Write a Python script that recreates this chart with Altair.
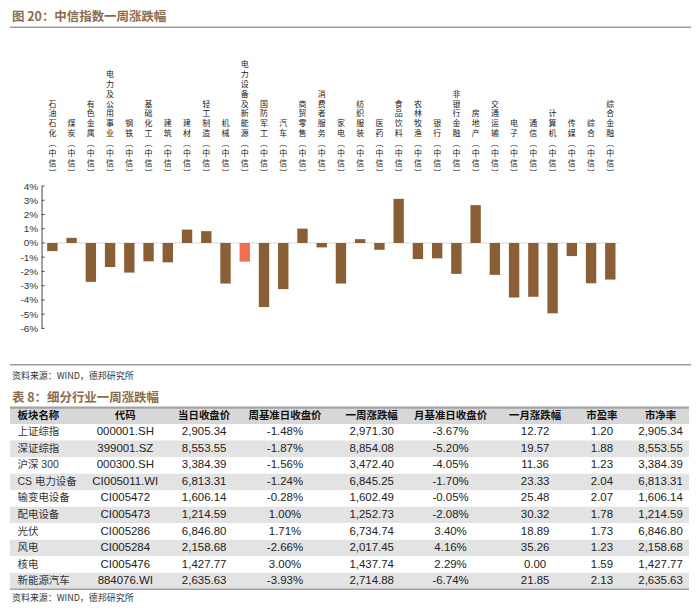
import altair as alt
import pandas as pd

# ---------------- data ----------------
industries = ["石油石化", "煤炭", "有色金属", "电力及公用事业", "钢铁", "基础化工", "建筑", "建材",
              "轻工制造", "机械", "电力设备及新能源", "国防军工", "汽车", "商贸零售", "消费者服务", "家电",
              "纺织服装", "医药", "食品饮料", "农林牧渔", "银行", "非银行金融", "房地产", "交通运输",
              "电子", "通信", "计算机", "传媒", "综合", "综合金融"]
weekly_change = [-0.57, 0.36, -2.73, -1.69, -2.08, -1.29, -1.36, 0.94, 0.83, -2.85,
                 -1.31, -4.50, -3.24, 1.01, -0.31, -2.85, 0.27, -0.48, 3.10, -1.13,
                 -1.08, -2.17, 2.66, -2.24, -3.83, -3.78, -4.94, -0.92, -2.83, -2.57]
highlight = "电力设备及新能源"
label_suffix = ["︵", "中", "信", "︶"]   # "（中信）" in vertical presentation forms
y_ticks = [4, 3, 2, 1, 0, -1, -2, -3, -4, -5, -6]

chart_title = "图 20：中信指数一周涨跌幅"
table_title = "表 8：细分行业一周涨跌幅"
source_text = "资料来源：WIND，德邦研究所"

headers = ["板块名称", "代码", "当日收盘价", "周基准日收盘价", "一周涨跌幅", "月基准日收盘价", "一月涨跌幅", "市盈率", "市净率"]
names = ["上证综指", "深证综指", "沪深 300", "CS 电力设备", "输变电设备", "配电设备", "光伏", "风电", "核电", "新能源汽车"]
codes = ["000001.SH", "399001.SZ", "000300.SH", "CI005011.WI", "CI005472", "CI005473", "CI005286", "CI005284", "CI005476", "884076.WI"]
close_today = ["2,905.34", "8,553.55", "3,384.39", "6,813.31", "1,606.14", "1,214.59", "6,846.80", "2,158.68", "1,427.77", "2,635.63"]
week_base = ["-1.48%", "-1.87%", "-1.56%", "-1.24%", "-0.28%", "1.00%", "1.71%", "-2.66%", "3.00%", "-3.93%"]
week_chg = ["2,971.30", "8,854.08", "3,472.40", "6,845.25", "1,602.49", "1,252.73", "6,734.74", "2,017.45", "1,437.74", "2,714.88"]
month_base = ["-3.67%", "-5.20%", "-4.05%", "-1.70%", "-0.05%", "-2.08%", "3.40%", "4.16%", "2.29%", "-6.74%"]
month_chg = ["12.72", "19.57", "11.36", "23.33", "25.48", "30.32", "18.89", "35.26", "0.00", "21.85"]
pe = ["1.20", "1.88", "1.23", "2.04", "2.07", "1.78", "1.73", "1.23", "1.59", "2.13"]
pb = ["2,905.34", "8,553.55", "3,384.39", "6,813.31", "1,606.14", "1,214.59", "6,846.80", "2,158.68", "1,427.77", "2,635.63"]

# ---------------- layout / style ----------------
W, H = 684, 598
CJK = "Noto Sans CJK SC"
LAT = "Liberation Sans, Noto Sans CJK SC"
BROWN = "#8b6b4e"
BAR = "#8b5f35"
HIGHLIGHT = "#f07050"
LINE = "#9d9d9d"

TITLE_Y, TOP_LINE_Y = 8, 18
LABEL_BOTTOM = 170
LABEL_LH = 9.9
AXIS_X = 31.7
BAND_RANGE = [32.9, 612.6]
Y_RANGE = [320.5, 177.5]
MID_LINE_Y, SRC1_Y, TBL_TITLE_Y = 357, 368, 390.5
TBL_TOP, ROW_H = 400, 16.6
TBL_BOTTOM = TBL_TOP + ROW_H * 11
SRC2_Y = TBL_BOTTOM + 9
COL_X = [7.6, 115.8, 195, 276.2, 363.3, 442.5, 527.4, 594.5, 653.4]


def one(t=""):
    return pd.DataFrame({"t": [t]})


def text_item(t, y, size=9, bold=False, color="#333"):
    return alt.Chart(one(t)).mark_text(
        align="left", baseline="middle", font=CJK, fontSize=size,
        fontWeight="bold" if bold else "normal", color=color
    ).encode(text="t:N", x=alt.value(2), y=alt.value(y))


def hline(y, width=1.5, color=LINE, x0=0, x1=W):
    return alt.Chart(one()).mark_rule(color=color, strokeWidth=width).encode(
        x=alt.value(x0), x2=alt.value(x1), y=alt.value(y))


deco = [
    text_item(chart_title, TITLE_Y, 12.5, True, BROWN),
    hline(TOP_LINE_Y),
    hline(MID_LINE_Y),
    text_item(source_text, SRC1_Y, 9),
    text_item(table_title, TBL_TITLE_Y, 12.5, True, BROWN),
    text_item(source_text, SRC2_Y, 9),
]

# ---------------- bar chart ----------------
bar_df = pd.DataFrame({"name": industries, "value": weekly_change})
tick_df = pd.DataFrame({"t": y_ticks})

# vertical category labels: one text per character, position counted from the bottom
chars = []
for n in industries:
    seq = list(n) + label_suffix
    for i, ch in enumerate(seq):
        chars.append({"name": n, "ch": ch, "pos": len(seq) - 1 - i})
char_df = pd.DataFrame(chars)
n_lines = int(char_df["pos"].max()) + 1

xscale = alt.Scale(domain=industries, range=BAND_RANGE, paddingInner=0.46, paddingOuter=0.23)
yscale = alt.Scale(domain=[-6, 4], range=Y_RANGE, nice=False, zero=False)
yaxis = alt.Axis(values=y_ticks, labelExpr="datum.value + '%'", ticks=False, grid=False,
                 domain=True, domainColor="#444", domainWidth=1, labelFont="Liberation Sans",
                 labelFontSize=10, labelColor="#333", labelPadding=4, labelFlush=False,
                 labelOverlap=False, offset=-AXIS_X, title=None, orient="left")

zero_rule = alt.Chart(tick_df).transform_filter("datum.t == 0").mark_rule(
    color="#d9d9d9", strokeWidth=1).encode(
    y=alt.Y("t:Q", scale=yscale, axis=yaxis),
    x=alt.value(AXIS_X), x2=alt.value(BAND_RANGE[1]))

tick_marks = alt.Chart(tick_df).mark_rule(color="#444", strokeWidth=1).encode(
    y=alt.Y("t:Q", scale=yscale, axis=yaxis),
    x=alt.value(AXIS_X), x2=alt.value(AXIS_X + 3))

bars = alt.Chart(bar_df).mark_bar().encode(
    x=alt.X("name:N", scale=xscale, sort=None, axis=None),
    y=alt.Y("value:Q", scale=yscale, axis=yaxis),
    y2=alt.datum(0),
    color=alt.condition(alt.datum.name == highlight, alt.value(HIGHLIGHT), alt.value(BAR)),
)

bar_layer = alt.layer(zero_rule, tick_marks, bars)

char_scale = alt.Scale(domain=[0, n_lines],
                       range=[LABEL_BOTTOM - LABEL_LH / 2, LABEL_BOTTOM - LABEL_LH / 2 - n_lines * LABEL_LH],
                       nice=False, zero=False)
label_layer = alt.Chart(char_df).mark_text(
    baseline="middle", align="center", font=CJK, fontSize=8, color="#222"
).encode(
    x=alt.X("name:N", scale=xscale, sort=None, axis=None),
    y=alt.Y("pos:Q", scale=char_scale, axis=None),
    text="ch:N",
)

# ---------------- table ----------------
row_keys = [headers[0]] + names
columns = [names, codes, close_today, week_base, week_chg, month_base, month_chg, pe, pb]
cells = []
for c, h in enumerate(headers):
    cells.append({"row": headers[0], "col": c, "txt": h, "kind": "header"})
    for r, n in enumerate(names):
        cells.append({"row": n, "col": c, "txt": columns[c][r],
                      "kind": "name" if c == 0 else "value"})
cell_df = pd.DataFrame(cells)
rows_df = pd.DataFrame({"row": row_keys,
                        "shade": ["header"] + ["white" if i % 2 == 0 else "gray" for i in range(len(names))]})

row_scale = alt.Scale(domain=row_keys, range=[TBL_TOP, TBL_BOTTOM], paddingInner=0, paddingOuter=0)
col_scale = alt.Scale(domain=list(range(len(headers))), range=COL_X, nice=False, zero=False)

shade = alt.Chart(rows_df).mark_rect().encode(
    y=alt.Y("row:N", scale=row_scale, axis=None, sort=None),
    x=alt.value(0), x2=alt.value(682),
    color=alt.Color("shade:N", scale=alt.Scale(domain=["header", "gray", "white"],
                                               range=["#d7d7d7", "#e3e3e3", "#ffffff"]), legend=None),
)


def table_text(cond, align, font, size, weight, color):
    return alt.Chart(cell_df).transform_filter(cond).mark_text(
        align=align, baseline="middle", font=font, fontSize=size, fontWeight=weight, color=color
    ).encode(
        x=alt.X("col:Q", scale=col_scale, axis=None),
        y=alt.Y("row:N", scale=row_scale, axis=None, sort=None),
        text="txt:N",
    )


hdr_first = table_text((alt.datum.kind == "header") & (alt.datum.col == 0), "left", CJK, 10.5, "bold", "#111")
hdr_rest = table_text((alt.datum.kind == "header") & (alt.datum.col > 0), "center", CJK, 10.5, "bold", "#111")
name_txt = table_text(alt.datum.kind == "name", "left", LAT, 10.5, "normal", "#333")
value_txt = table_text(alt.datum.kind == "value", "center", "Liberation Sans", 11.5, "normal", "#222")

table_layer = alt.layer(shade, hdr_first, hdr_rest, name_txt, value_txt)

borders = [hline(TBL_TOP, 2.2, "#a3a3a3", 0, 682), hline(TBL_BOTTOM, 1.5, "#a3a3a3", 0, 682)]

chart = alt.layer(
    *deco, bar_layer, label_layer, table_layer, *borders
).resolve_scale(
    x="independent", y="independent", color="independent"
).properties(
    width=W, height=H, padding=0, background="white"
).configure_view(stroke=None)

chart.save("out.html", embed_options={"renderer": "svg", "actions": False})
